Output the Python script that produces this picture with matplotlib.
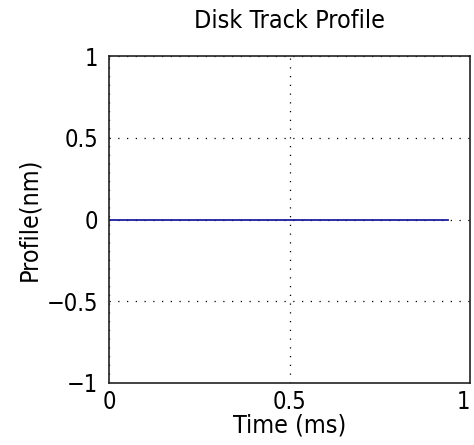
import matplotlib
matplotlib.use("Agg")
import matplotlib.pyplot as plt

# data
timeMs = [0.0, 0.94]
profileNm = [0.0, 0.0]
xTicks = [0, 0.5, 1]
xTickLabels = ["0", "0.5", "1"]
yTicks = [-1, -0.5, 0, 0.5, 1]
yTickLabels = ["\u22121", "\u22120.5", "0", "0.5", "1"]

plt.rcParams["font.family"] = ["DejaVu Sans"]
plt.rcParams["font.stretch"] = "condensed"

fig = plt.figure(figsize=(4.74, 4.45), dpi=100)
ax = fig.add_axes([109 / 474, 1 - 383 / 445, 361 / 474, 327 / 445])

ax.plot(timeMs, profileNm, color="#1c1c9c", linewidth=1.3)

ax.set_xlim(0, 1)
ax.set_ylim(-1, 1)
ax.set_xticks(xTicks)
ax.set_xticklabels(xTickLabels)
ax.set_yticks(yTicks)
ax.set_yticklabels(yTickLabels)
ax.tick_params(length=0, labelsize=17)
ax.tick_params(axis="x", pad=5)
ax.tick_params(axis="y", pad=8)
ax.get_xticklabels()[-1].set_horizontalalignment("right")
ax.grid(True, color="black", linestyle=(0, (1, 6)), linewidth=0.9)

for spine in ax.spines.values():
    spine.set_linewidth(1.2)
    spine.set_color("#222222")

ax.set_title("Disk Track Profile", fontsize=18, pad=20)
ax.set_xlabel("Time (ms)", fontsize=18, labelpad=0)
ax.set_ylabel("Profile(nm)", fontsize=18, labelpad=4)

fig.savefig("out.png", dpi=100)
